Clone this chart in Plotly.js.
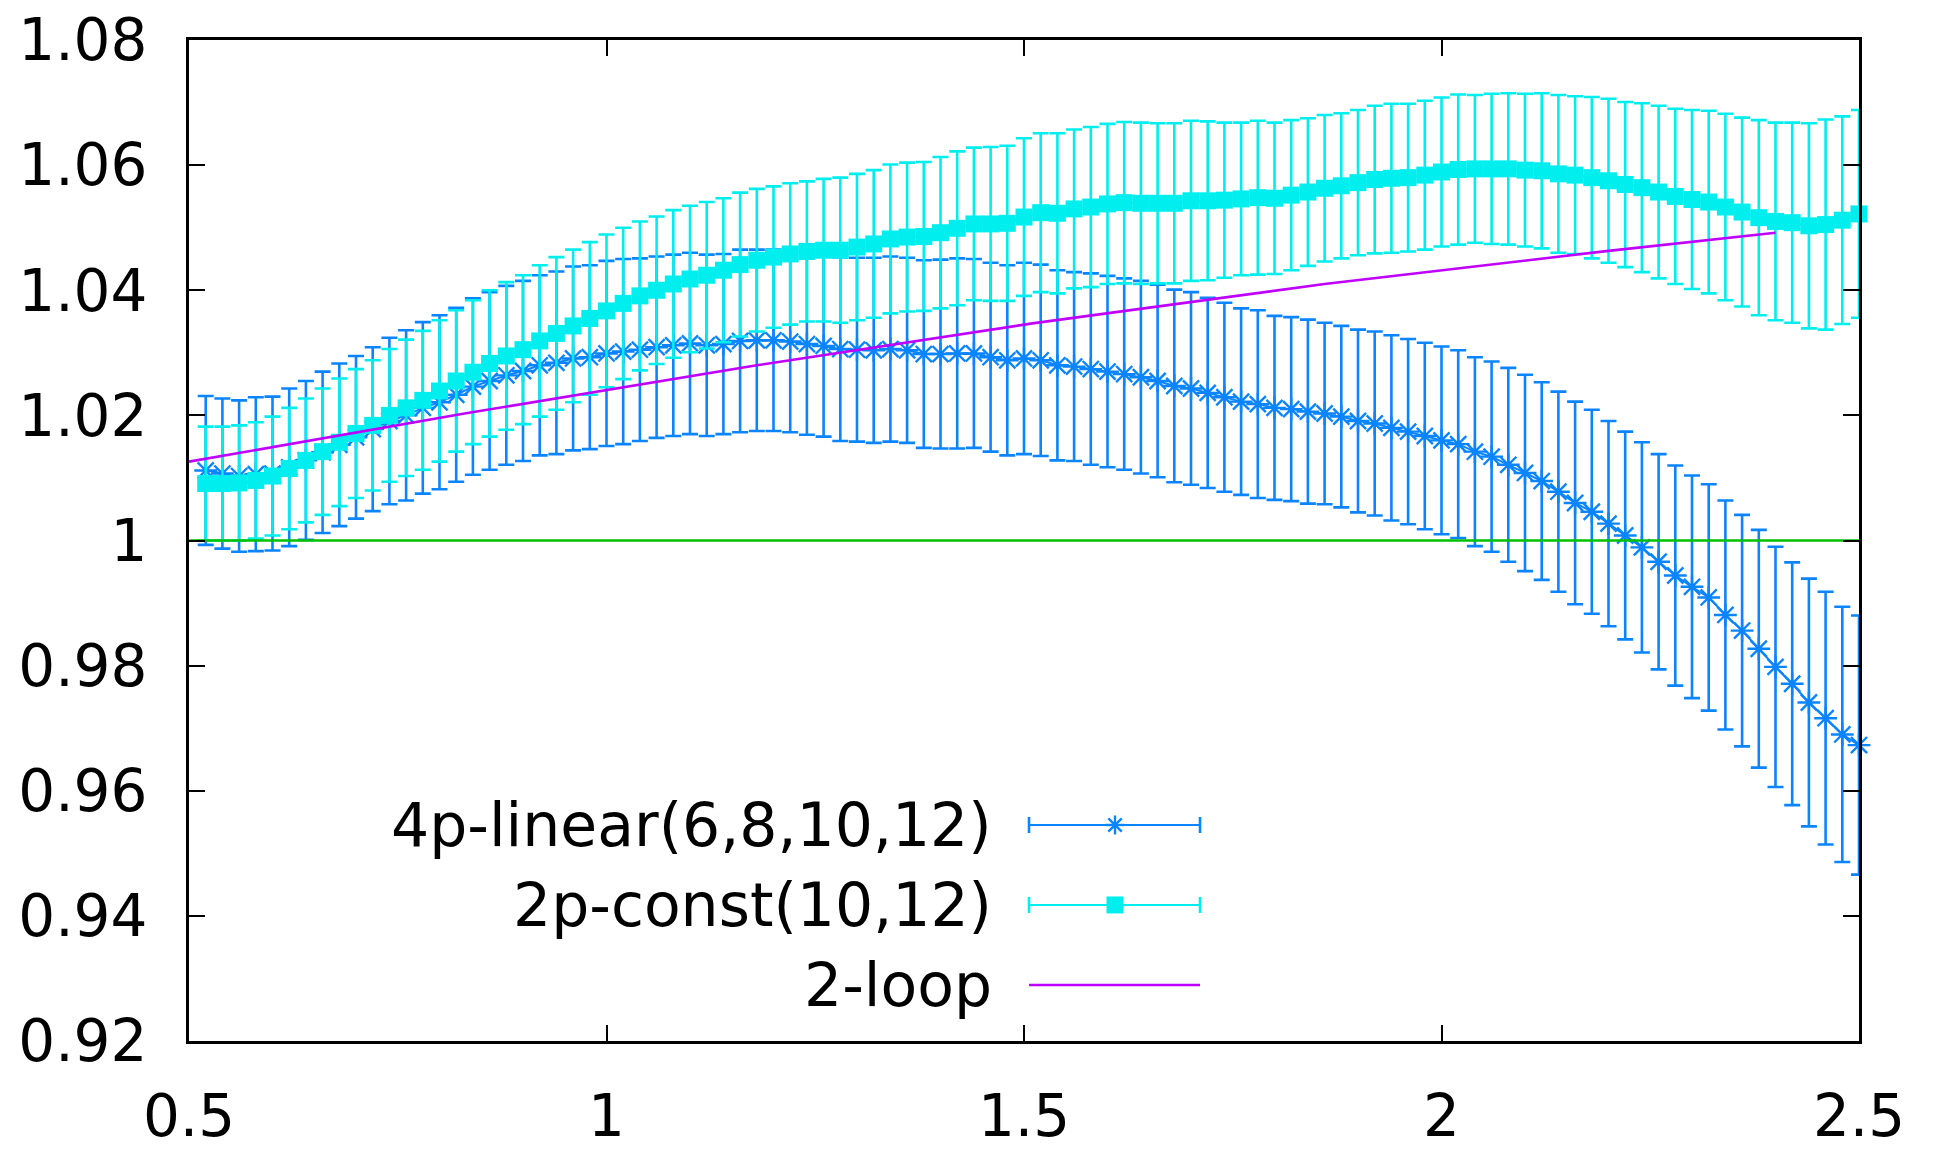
<!DOCTYPE html>
<html>
<head>
<meta charset="utf-8">
<script src="https://cdn.plot.ly/plotly-3.0.1.min.js"></script>
<style>
  html, body { margin: 0; padding: 0; background: #ffffff; }
  #chart { width: 1937px; height: 1149px; }
</style>
</head>
<body>
<div id="chart"></div>
<script>
// ---- data ----
const xs = [0.52,0.54,0.56,0.58,0.60,0.62,0.64,0.66,0.68,0.70,
            0.72,0.74,0.76,0.78,0.80,0.82,0.84,0.86,0.88,0.90,
            0.92,0.94,0.96,0.98,1.00,1.02,1.04,1.06,1.08,1.10,
            1.12,1.14,1.16,1.18,1.20,1.22,1.24,1.26,1.28,1.30,
            1.32,1.34,1.36,1.38,1.40,1.42,1.44,1.46,1.48,1.50,
            1.52,1.54,1.56,1.58,1.60,1.62,1.64,1.66,1.68,1.70,
            1.72,1.74,1.76,1.78,1.80,1.82,1.84,1.86,1.88,1.90,
            1.92,1.94,1.96,1.98,2.00,2.02,2.04,2.06,2.08,2.10,
            2.12,2.14,2.16,2.18,2.20,2.22,2.24,2.26,2.28,2.30,
            2.32,2.34,2.36,2.38,2.40,2.42,2.44,2.46,2.48,2.50];

const linearVals = [1.0112,1.0107,1.0103,1.0106,1.0107,1.0117,1.0128,1.0141,1.0153,1.0165,
                    1.0178,1.0191,1.0200,1.0212,1.0221,1.0233,1.0246,1.0255,1.0264,1.0271,
                    1.0280,1.0284,1.0291,1.0293,1.0299,1.0302,1.0305,1.0309,1.0312,1.0315,
                    1.0312,1.0314,1.0319,1.0320,1.0320,1.0318,1.0314,1.0311,1.0306,1.0305,
                    1.0304,1.0306,1.0304,1.0298,1.0298,1.0299,1.0299,1.0293,1.0288,1.0291,
                    1.0288,1.0280,1.0278,1.0274,1.0270,1.0266,1.0261,1.0255,1.0247,1.0243,
                    1.0236,1.0229,1.0222,1.0218,1.0212,1.0210,1.0206,1.0203,1.0198,1.0191,
                    1.0187,1.0180,1.0174,1.0167,1.0160,1.0154,1.0142,1.0134,1.0121,1.0108,
                    1.0095,1.0078,1.0060,1.0046,1.0027,1.0008,0.9989,0.9966,0.9944,0.9926,
                    0.9909,0.9881,0.9856,0.9827,0.9798,0.9771,0.9741,0.9716,0.9690,0.9673];

const linearErr = [0.0119,0.0120,0.0121,0.0123,0.0123,0.0126,0.0127,0.0129,0.0130,0.0130,
                   0.0131,0.0133,0.0136,0.0137,0.0139,0.0139,0.0141,0.0142,0.0143,0.0144,
                   0.0144,0.0146,0.0147,0.0147,0.0148,0.0148,0.0146,0.0145,0.0145,0.0145,
                   0.0145,0.0144,0.0146,0.0145,0.0145,0.0145,0.0145,0.0145,0.0147,0.0147,
                   0.0148,0.0148,0.0148,0.0150,0.0151,0.0152,0.0151,0.0151,0.0152,0.0153,
                   0.0153,0.0152,0.0151,0.0153,0.0153,0.0153,0.0154,0.0154,0.0154,0.0154,
                   0.0152,0.0151,0.0149,0.0150,0.0147,0.0147,0.0147,0.0145,0.0145,0.0146,
                   0.0147,0.0148,0.0148,0.0149,0.0150,0.0150,0.0151,0.0152,0.0155,0.0157,
                   0.0158,0.0160,0.0162,0.0163,0.0164,0.0166,0.0168,0.0172,0.0176,0.0178,
                   0.0181,0.0183,0.0185,0.0190,0.0192,0.0194,0.0198,0.0202,0.0204,0.0207];

const constVals = [1.0091,1.0091,1.0092,1.0096,1.0103,1.0115,1.0128,1.0142,1.0157,1.0171,
                   1.0184,1.0200,1.0212,1.0224,1.0239,1.0255,1.0269,1.0283,1.0295,1.0305,
                   1.0319,1.0331,1.0343,1.0355,1.0367,1.0379,1.0391,1.0400,1.0410,1.0418,
                   1.0424,1.0432,1.0441,1.0448,1.0453,1.0458,1.0462,1.0464,1.0464,1.0469,
                   1.0474,1.0482,1.0485,1.0486,1.0492,1.0499,1.0506,1.0506,1.0507,1.0517,
                   1.0524,1.0523,1.0530,1.0533,1.0538,1.0540,1.0539,1.0539,1.0539,1.0543,
                   1.0543,1.0544,1.0546,1.0548,1.0547,1.0552,1.0557,1.0563,1.0567,1.0572,
                   1.0577,1.0579,1.0580,1.0584,1.0589,1.0593,1.0594,1.0594,1.0594,1.0592,
                   1.0591,1.0586,1.0584,1.0580,1.0575,1.0569,1.0564,1.0557,1.0550,1.0545,
                   1.0541,1.0533,1.0525,1.0516,1.0510,1.0508,1.0503,1.0505,1.0512,1.0522];

const constErr = [0.0091,0.0091,0.0092,0.0093,0.0095,0.0097,0.0099,0.0101,0.0102,0.0103,
                  0.0104,0.0106,0.0109,0.0111,0.0113,0.0113,0.0115,0.0117,0.0118,0.0119,
                  0.0121,0.0122,0.0122,0.0122,0.0122,0.0121,0.0119,0.0118,0.0118,0.0117,
                  0.0117,0.0115,0.0115,0.0114,0.0113,0.0113,0.0112,0.0114,0.0116,0.0117,
                  0.0118,0.0119,0.0119,0.0119,0.0121,0.0123,0.0122,0.0123,0.0124,0.0126,
                  0.0127,0.0128,0.0127,0.0128,0.0128,0.0129,0.0129,0.0128,0.0128,0.0128,
                  0.0127,0.0124,0.0122,0.0123,0.0121,0.0120,0.0118,0.0117,0.0116,0.0116,
                  0.0118,0.0119,0.0118,0.0119,0.0119,0.0120,0.0118,0.0120,0.0121,0.0122,
                  0.0124,0.0126,0.0126,0.0129,0.0131,0.0132,0.0135,0.0138,0.0140,0.0143,
                  0.0146,0.0149,0.0151,0.0156,0.0158,0.0160,0.0164,0.0168,0.0166,0.0166];

const loopX = [0.5, 0.83, 1.18, 1.51, 1.86, 2.20, 2.40];
const loopY = [1.0126, 1.0203, 1.0280, 1.0347, 1.0410, 1.0463, 1.0492];

const unitX = [0.5, 2.5];
const unitY = [1, 1];

const seriesNames = ['4p-linear(6,8,10,12)', '2p-const(10,12)', '2-loop'];

const xTickVals = [0.5, 1, 1.5, 2, 2.5];
const xTickText = ['0.5', '1', '1.5', '2', '2.5'];
const yTickVals = [0.92, 0.94, 0.96, 0.98, 1.00, 1.02, 1.04, 1.06, 1.08];
const yTickText = ['0.92', '0.94', '0.96', '0.98', '1', '1.02', '1.04', '1.06', '1.08'];

// ---- styles ----
const BLUE = '#0a84ff';
const CYAN = '#00eeee';
const PURPLE = '#c000ff';
const GREEN = '#00c000';
const FONT = 'DejaVu Sans, Liberation Sans, Arial, sans-serif';

const traces = [
  {
    x: xs, y: linearVals, type: 'scatter', mode: 'lines+markers',
    name: seriesNames[0], showlegend: false, cliponaxis: false,
    line: { color: BLUE, width: 2 },
    marker: { symbol: 'asterisk-open', size: 19, color: BLUE, line: { color: BLUE, width: 2.4 } },
    error_y: { type: 'data', array: linearErr, visible: true, color: BLUE, thickness: 2.6, width: 8 }
  },
  {
    x: xs, y: constVals, type: 'scatter', mode: 'lines+markers',
    name: seriesNames[1], showlegend: false, cliponaxis: false,
    line: { color: CYAN, width: 2 },
    marker: { symbol: 'square', size: 17, color: CYAN, line: { width: 0 } },
    error_y: { type: 'data', array: constErr, visible: true, color: CYAN, thickness: 2.6, width: 8 }
  },
  {
    x: loopX, y: loopY, type: 'scatter', mode: 'lines',
    name: seriesNames[2], showlegend: false,
    line: { color: PURPLE, width: 2.6 }
  },
  {
    x: unitX, y: unitY, type: 'scatter', mode: 'lines',
    name: 'unity', showlegend: false,
    line: { color: GREEN, width: 2.6 }
  }
];

// ---- hand-built legend (text left of sample, as in the reference) ----
const legTextX = 0.482;
const legX0 = 0.503, legX1 = 0.6054, legXm = 0.5545;
const legRows = [0.2158, 0.1359, 0.0559];
const legColors = [BLUE, CYAN, PURPLE];

const annotations = seriesNames.map((n, i) => ({
  text: n, xref: 'paper', yref: 'paper', x: legTextX, y: legRows[i],
  xanchor: 'right', yanchor: 'middle', showarrow: false,
  font: { family: FONT, size: 60, color: '#000' }
}));

function pxLine(ax, ay, dx0, dy0, dx1, dy1, color, w) {
  return { type: 'line', xref: 'paper', yref: 'paper',
           xsizemode: 'pixel', ysizemode: 'pixel', xanchor: ax, yanchor: ay,
           x0: dx0, y0: dy0, x1: dx1, y1: dy1, line: { color: color, width: w } };
}

const shapes = [];
legRows.forEach((ry, i) => {
  const c = legColors[i];
  shapes.push({ type: 'line', xref: 'paper', yref: 'paper', x0: legX0, x1: legX1, y0: ry, y1: ry,
                line: { color: c, width: i === 2 ? 2.6 : 2 } });
  if (i < 2) {
    shapes.push(pxLine(legX0, ry, 0, -8, 0, 8, c, 2.6));
    shapes.push(pxLine(legX1, ry, 0, -8, 0, 8, c, 2.6));
  }
});
// star sample
[[-9.5, 0, 9.5, 0], [0, -9.5, 0, 9.5], [-6.7, -6.7, 6.7, 6.7], [-6.7, 6.7, 6.7, -6.7]].forEach(s => {
  shapes.push(pxLine(legXm, legRows[0], s[0], s[1], s[2], s[3], BLUE, 2.4));
});
// square sample
shapes.push({ type: 'rect', xref: 'paper', yref: 'paper', xsizemode: 'pixel', ysizemode: 'pixel',
              xanchor: legXm, yanchor: legRows[1], x0: -8.5, x1: 8.5, y0: -8.5, y1: 8.5,
              fillcolor: CYAN, line: { width: 0 } });

const axisCommon = {
  showgrid: false, zeroline: false, showline: true, linecolor: '#000', linewidth: 3,
  mirror: 'ticks', ticks: 'inside', ticklen: 16, tickwidth: 2, tickcolor: '#000',
  tickfont: { family: FONT, size: 58, color: '#000' }, tickmode: 'array'
};

const layout = {
  width: 1937, height: 1149,
  margin: { l: 189, r: 78, t: 40, b: 108, pad: 0 },
  paper_bgcolor: '#ffffff', plot_bgcolor: '#ffffff',
  showlegend: false,
  xaxis: Object.assign({}, axisCommon, {
    range: [0.5, 2.5], tickvals: xTickVals, ticktext: xTickText, ticklabelstandoff: 22
  }),
  yaxis: Object.assign({}, axisCommon, {
    range: [0.92, 1.08], tickvals: yTickVals, ticktext: yTickText, ticklabelstandoff: 27
  }),
  annotations: annotations,
  shapes: shapes
};

Plotly.newPlot('chart', traces, layout, { staticPlot: true, displayModeBar: false });
</script>
</body>
</html>
